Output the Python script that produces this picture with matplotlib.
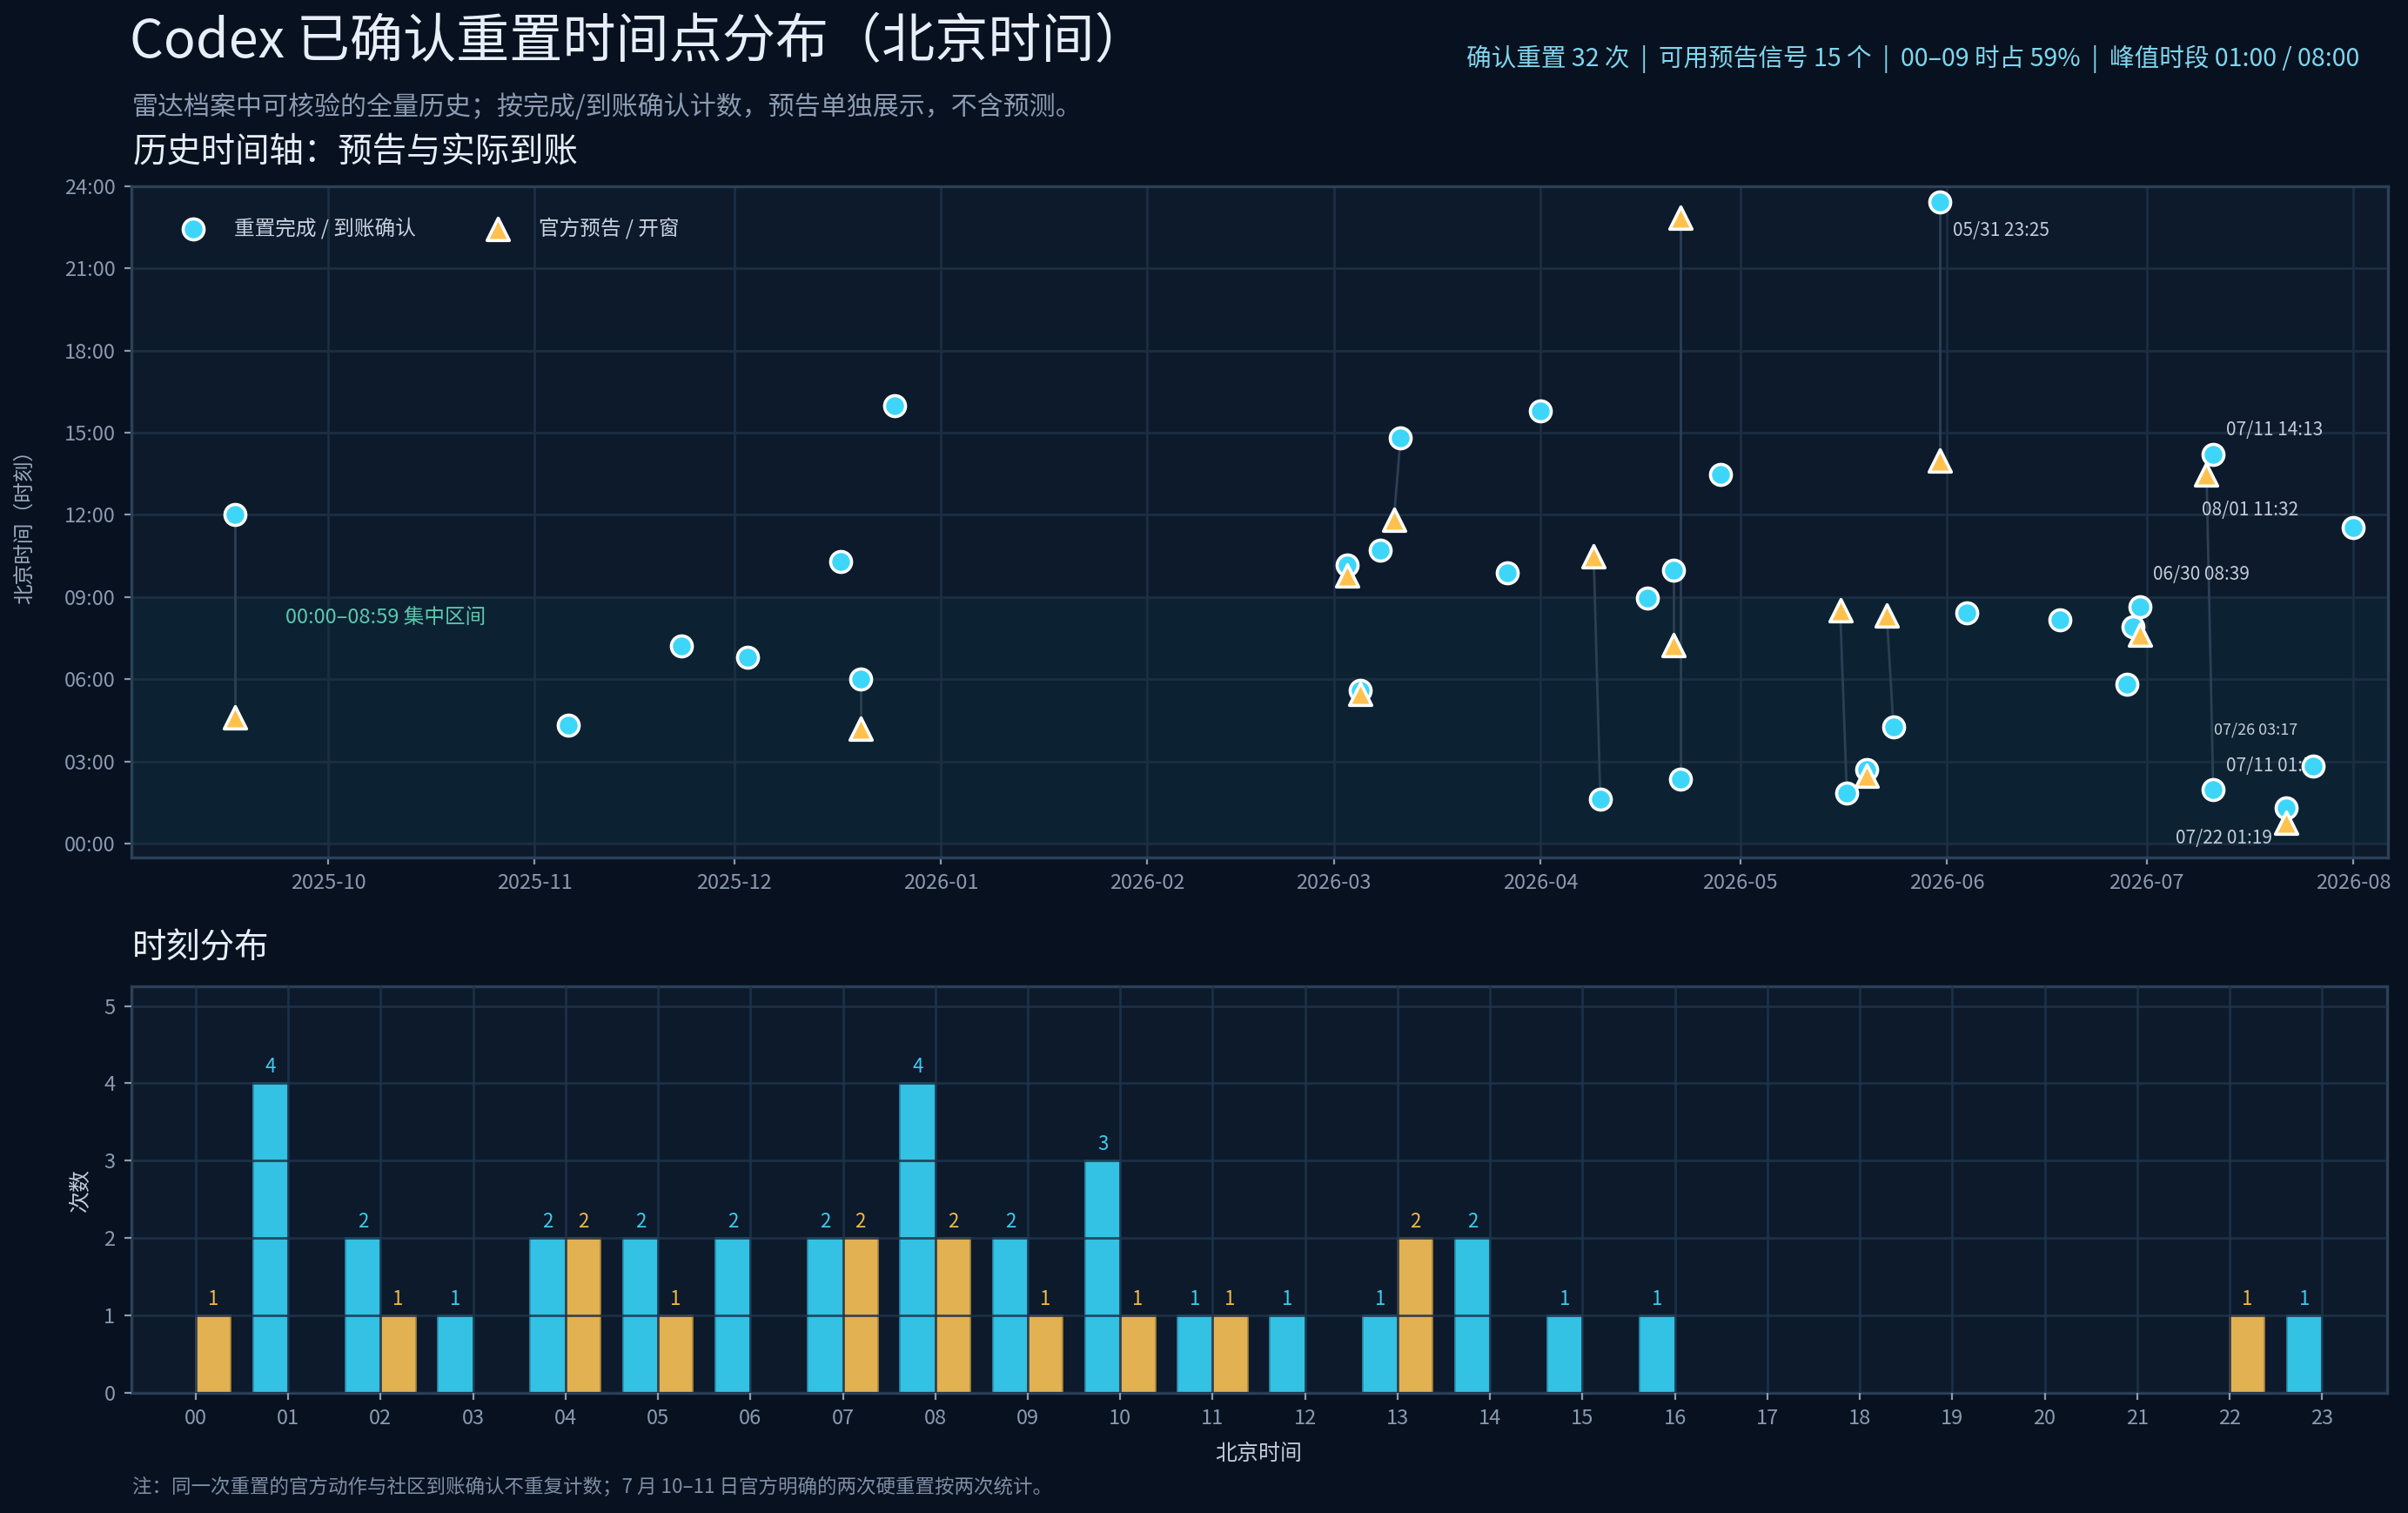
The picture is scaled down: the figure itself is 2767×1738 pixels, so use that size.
import numpy as np
import pandas as pd
import matplotlib
matplotlib.use('Agg')
import matplotlib.pyplot as plt
import matplotlib.dates as mdates
from matplotlib.transforms import blended_transform_factory

plt.rcParams['font.family'] = ['Noto Sans CJK SC', 'DejaVu Sans']

# confirmed resets (Beijing time)
reset_times = [
    '2025-09-17 12:00', '2025-11-06 04:19', '2025-11-23 07:12', '2025-12-03 06:49',
    '2025-12-17 10:17', '2025-12-20 06:00', '2025-12-25 16:00',
    '2026-03-03 10:10', '2026-03-05 05:35', '2026-03-08 10:42', '2026-03-11 14:48',
    '2026-03-27 09:53', '2026-04-01 15:47', '2026-04-10 01:38', '2026-04-17 08:57',
    '2026-04-21 09:58', '2026-04-22 02:21', '2026-04-28 13:28', '2026-05-17 01:51',
    '2026-05-20 02:43', '2026-05-24 04:15', '2026-05-31 23:25', '2026-06-04 08:25',
    '2026-06-18 08:10', '2026-06-28 05:49', '2026-06-29 07:54', '2026-06-30 08:39',
    '2026-07-11 01:58', '2026-07-11 14:13', '2026-07-22 01:19', '2026-07-26 02:50',
    '2026-08-01 11:32',
]

# official announcements / windows, and the reset each one belongs to
forecast_times = [
    '2025-09-17 04:37', '2025-12-20 04:12', '2026-03-03 09:48', '2026-03-05 05:28',
    '2026-03-10 11:50', '2026-04-09 10:29', '2026-04-21 07:14', '2026-04-22 22:51',
    '2026-05-16 08:31', '2026-05-20 02:28', '2026-05-23 08:20', '2026-05-31 13:59',
    '2026-06-30 07:37', '2026-07-10 13:29', '2026-07-22 00:46',
]
forecast_link = [0, 5, 7, 8, 10, 13, 15, 16, 18, 19, 20, 21, 26, 27, 29]

# annotated points
label_idx = [21, 28, 31, 26, 27, 29, 30]
label_text = ['05/31 23:25', '07/11 14:13', '08/01 11:32', '06/30 08:39',
              '07/11 01:58', '07/22 01:19', '07/26 03:17']

# hour-of-day histogram
hour_labels = ['%02d' % h for h in range(24)]
reset_counts = [0, 4, 2, 1, 2, 2, 2, 2, 4, 2, 3, 1, 1, 1, 2, 1, 1, 0, 0, 0, 0, 0, 0, 1]
forecast_counts = [1, 0, 1, 0, 2, 1, 0, 2, 2, 1, 1, 1, 0, 2, 0, 0, 0, 0, 0, 0, 0, 0, 1, 0]

stats_text = '确认重置 32 次  |  可用预告信号 15 个  |  00–09 时占 59%  |  峰值时段 01:00 / 08:00'

BG = '#08111f'
PANEL = '#0d1a2b'
BAND = '#0c2232'
GRID = '#1c2e43'
SPINE = '#2b4159'
TICK = '#8a9ab0'
CYAN = '#3dd6f8'
GOLD = '#ffc14d'
BAR_C = '#33c1e4'
BAR_G = '#e1b152'


def to_xy(times):
    t = pd.to_datetime(pd.Series(times))
    x = t.dt.normalize()
    y = t.dt.hour + t.dt.minute / 60.0
    return x.values, y.values


def style_axes(ax):
    ax.set_facecolor(PANEL)
    for s in ax.spines.values():
        s.set_color(SPINE)
        s.set_linewidth(1.2)
    ax.tick_params(colors=TICK, labelsize=8.5, length=3, width=0.8)


rx, ry = to_xy(reset_times)
fx, fy = to_xy(forecast_times)

fig = plt.figure(figsize=(13.835, 8.69), dpi=200)
fig.patch.set_facecolor(BG)

fig.text(0.054, 0.972, 'Codex 已确认重置时间点分布（北京时间）', fontsize=22,
         color='#e6eefa', va='center', ha='left')
fig.text(0.055, 0.929, '雷达档案中可核验的全量历史；按完成/到账确认计数，预告单独展示，不含预测。',
         fontsize=10.8, color='#8a9bb3', va='center', ha='left')
fig.text(0.980, 0.961, stats_text, fontsize=10.3, color='#7fd6ee', va='center', ha='right')
fig.text(0.055, 0.899, '历史时间轴：预告与实际到账', fontsize=14.2, color='#e6eefa',
         va='center', ha='left')

# ---- timeline ----
ax = fig.add_axes([0.0544, 0.4334, 0.9372, 0.4436])
style_axes(ax)
ax.axhspan(0, 9, color=BAND, zorder=0, lw=0)
ax.grid(True, color=GRID, lw=1.0, zorder=1)
ax.set_axisbelow(True)

for i, j in enumerate(forecast_link):
    ax.plot([fx[i], rx[j]], [fy[i], ry[j]], color='#2c3f55', lw=1.0, zorder=2)

ax.scatter(rx, ry, s=75, color=CYAN, edgecolor='white', linewidth=1.3, zorder=5,
           label='重置完成 / 到账确认')
ax.scatter(fx, fy, s=85, marker='^', color=GOLD, edgecolor='white', linewidth=1.3,
           zorder=6, label='官方预告 / 开窗')

offsets = [(5.3, -11.8, 'left'), (5.3, 10, 'left'), (-22.5, 7.2, 'right'),
           (5.3, 13.4, 'left'), (5.4, 9.9, 'left'), (-6, -12.9, 'right'),
           (-6.3, 15, 'right')]
for k, (idx, txt) in enumerate(zip(label_idx, label_text)):
    dx, dy, ha = offsets[k]
    ax.annotate(txt, (rx[idx], ry[idx]), xytext=(dx, dy), textcoords='offset points',
                ha=ha, va='center', fontsize=6.5 if txt.startswith('07/26') else 7.5,
                color='#c3ccd8', zorder=3)

tr = blended_transform_factory(ax.transAxes, ax.transData)
ax.text(0.0685, 8.25, '00:00–08:59 集中区间', transform=tr, fontsize=8.5,
        color='#5cc8ae', va='center', ha='left', zorder=3)

ax.set_ylim(-0.5, 24)
ax.set_yticks(range(0, 25, 3))
ax.set_yticklabels(['%02d:00' % h for h in range(0, 25, 3)])
ax.set_xlim(pd.Timestamp('2025-09-01 10:00'), pd.Timestamp('2026-08-06 05:00'))
ax.xaxis.set_major_locator(mdates.MonthLocator())
ax.xaxis.set_major_formatter(mdates.DateFormatter('%Y-%m'))
ax.set_ylabel('北京时间（时刻）', color='#9aa8bb', fontsize=8.5, labelpad=12)

leg = ax.legend(loc='upper left', bbox_to_anchor=(0.012, 0.975), ncol=2, frameon=False,
                fontsize=8.5, columnspacing=3.0, handletextpad=1.0, borderaxespad=0.3)
for t in leg.get_texts():
    t.set_color('#c8d3e0')

# ---- hour histogram ----
fig.text(0.055, 0.373, '时刻分布', fontsize=14.2, color='#e6eefa', va='center', ha='left')
bx = fig.add_axes([0.0544, 0.0796, 0.9368, 0.2683])
style_axes(bx)
hours = np.arange(len(hour_labels))
w = 0.38
bx.bar(hours, reset_counts, width=-w, align='edge', color=BAR_C,
       edgecolor='#2a8fae', linewidth=0.6, zorder=2)
bx.bar(hours, forecast_counts, width=w, align='edge', color=BAR_G,
       edgecolor='#a8843e', linewidth=0.6, zorder=2)
for h, v in zip(hours, reset_counts):
    if v:
        bx.text(h - w / 2, v + 0.08, str(v), ha='center', va='bottom', fontsize=8,
                color='#3fc9ee', zorder=4)
for h, v in zip(hours, forecast_counts):
    if v:
        bx.text(h + w / 2, v + 0.08, str(v), ha='center', va='bottom', fontsize=8,
                color='#f0b84a', zorder=4)
bx.grid(True, color='#1e344b', lw=1.0, alpha=0.85, zorder=3)
bx.set_axisbelow(False)
bx.set_xlim(-0.7, 23.7)
bx.set_ylim(0, 5.25)
bx.set_xticks(hours)
bx.set_xticklabels(hour_labels)
bx.set_yticks(range(6))
bx.set_xlabel('北京时间', color='#c0cad8', fontsize=9, labelpad=6)
bx.set_ylabel('次数', color='#c0cad8', fontsize=9, labelpad=5)

fig.text(0.055, 0.0167, '注：同一次重置的官方动作与社区到账确认不重复计数；7 月 10–11 日官方明确的两次硬重置按两次统计。',
         fontsize=8.1, color='#7d8ea6', va='center', ha='left')

fig.savefig('out.png', dpi=200, facecolor=BG)
